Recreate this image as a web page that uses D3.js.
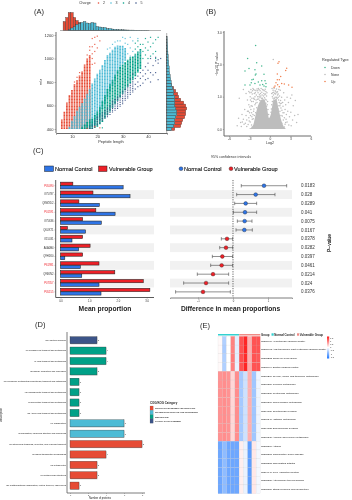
<!DOCTYPE html>
<html>
<head>
<meta charset="utf-8">
<script src="https://cdn.jsdelivr.net/npm/d3@7"></script>
<style>
  body { margin: 0; background: #fff; }
  svg { display: block; filter: blur(0.2px); }
  text { font-family: "Liberation Sans", Arial, sans-serif; }
</style>
</head>
<body>
<svg id="chart" width="352" height="500"></svg>
<script>
// ---- panel A: peptide length / mz, columns are [length, mzLow, mzHigh]
const charges = ['2', '3', '4', '5'];
const charge2Columns = [[6,400,480],[7,400,550],[8,400,625],[9,400,690],[10,400,735],[11,400,780],[12,400,815],[13,400,855],[14,400,890],[15,400,950],[16,400,1000],[17,400,1030]];
const charge3Columns = [[9,400,420],[10,400,470],[11,400,510],[12,400,555],[13,400,590],[14,400,620],[15,400,660],[16,400,700],[17,400,740],[18,420,790],[19,440,830],[20,480,870],[21,520,905],[22,570,945],[23,620,990],[24,670,1030],[25,720,1050],[26,770,1075],[27,820,1100],[28,870,1110],[29,910,1110],[30,950,1110],[31,980,1090]];
const charge4Columns = [[14,400,420],[15,400,440],[16,400,460],[17,400,480],[18,400,490],[19,410,520],[20,420,550],[21,440,590],[22,460,640],[23,490,690],[24,520,740],[25,550,780],[26,580,820],[27,610,860],[28,640,900],[29,670,930],[30,700,950],[31,730,970],[32,760,990],[33,790,1010],[34,820,1020],[35,850,1040],[36,880,1060],[37,910,1080]];
const charge5Columns = [[17,400,430],[18,400,450],[19,410,480],[20,430,510],[21,450,530],[22,470,545],[23,490,560],[24,500,590],[25,520,610],[26,540,640],[27,555,655],[28,570,680],[29,590,700],[30,610,730],[31,640,750],[32,660,775],[33,690,790],[34,710,820]];
const charge2Points = [[18,1170],[19,1180],[20,1190],[18,1100],[19,1120],[20,1090],[21,1150],[17,1070],[18,1040],[18,1000],[19,1060],[19,960],[18,950],[17,1100],[16,1030],[13,880],[11,800],[19,420],[21,410],[16,405],[12,840]];
const charge3Points = [[31,1130],[32,1120],[33,1090],[34,1060],[34,1150],[33,1180],[31,1170],[29,1150],[30,1180],[36,1170],[32,1040],[33,1020],[35,1020],[28,1150],[27,1140],[26,1120],[37,1050],[24,1080],[25,1090]];
const charge4Points = [[38,1000],[38,1060],[38,1120],[39,1030],[39,1090],[39,1170],[40,1000],[40,1140],[41,1020],[41,1100],[41,1180],[42,1040],[42,1130],[43,1000],[43,1060],[43,1160],[44,1180],[36,1100],[36,1150],[37,1120],[35,1080],[35,1130],[40,1070],[22,410]];
const charge5Points = [[35,740],[35,780],[35,830],[36,760],[36,800],[36,850],[37,770],[37,830],[37,880],[38,790],[38,850],[38,900],[39,820],[39,870],[39,930],[40,830],[40,900],[40,960],[41,800],[41,880],[41,1000],[42,860],[42,940],[43,880],[43,980],[44,820],[44,960],[44,990],[45,1000],[43,1010],[34,870],[33,830]];

const lengthBins = [7,8,9,10,11,12,13,14,15,16,17,18,19,20,21,22,23,24,25,26,27,28,29,30,31,32,33,34,35,36,37,38,39,40];
const lengthCharge2 = [9,13,18,18,13,10,8,7,6,4,3,2,1.5,1,1,0.7,0.5,0.4,0.3,0.3,0.2,0.2,0.1,0.1,0.1,0.1,0,0,0,0,0,0,0,0];
const lengthCharge3 = [0,0,1,2.5,4,6,7,8,9,7.5,7,8,7.5,4,3.5,3,3,2,2,1.5,1.2,1,0.8,0.7,0.6,0.5,0.4,0.4,0.3,0.3,0.2,0.2,0.2,0.1];
const mzBins = [400,425,450,475,500,525,550,575,600,625,650,675,700,725,750,775,800,825,850,875,900,925,950,975,1000,1025,1050,1075,1100,1125,1150,1175];
const mzCharge2 = [8,14,15,16,18,19,19,20,19,17,14,12,11,9,7,5,4,3,2.5,2,1.5,1.2,1,0.8,0.6,0.5,0.4,0.3,0.3,0.2,0.2,0.1];
const mzCharge3 = [5,7,8,8,9,10,10,9,8,8,8,8,7,7,6,5,4.5,4,3.5,3,2.5,2.5,2,2,1.5,1.5,1.2,1,1,0.8,0.6,0.5];

// ---- panel B: volcano, [log2, -log10 p]
const volcanoDown = [[-2.1,2.58],[-3.27,2.18],[-1.95,2.05],[-1.22,1.95],[-3.07,1.87],[-3.66,1.79],[-2.2,1.83],[-2.05,1.7],[-2.15,1.67],[-0.88,1.69],[-2.64,1.52],[-2.44,1.54],[-2.74,1.43],[-2.2,1.41],[-1.71,1.45],[-1.22,1.49],[-0.73,1.49],[-0.59,1.41],[-1.46,1.36],[-0.88,1.33],[-0.59,1.31],[-3.66,1.36],[-2.93,1.36],[-1.07,1.38]];
const volcanoUp = [[1.32,2.08],[1.17,2.03],[2.44,1.88],[2.3,1.81],[1.07,1.7],[1.56,1.62],[1.36,1.52],[1.07,1.52],[0.88,1.43],[1.71,1.41],[2.09,1.39],[2.73,1.36],[0.73,1.33],[1.36,1.31],[0.59,1.29],[1.12,1.37],[3.22,1.29]];
const volcanoNone = [[0.48,2.15],[-4.5,0.95],[-3.9,1.22],[-3.5,1.1],[-3.1,1.16],[-2.8,1.22],[-2.5,1.25],[-2.2,1.2],[-1.9,1.24],[-1.6,1.22],[-1.3,1.25],[-1,1.21],[-0.7,1.23],[-3.3,0.9],[-3.1,0.75],[-2.9,1],[-2.7,0.85],[-2.6,1.08],[-2.4,0.95],[-2.3,1.1],[-2.1,0.8],[-2,1.05],[-1.85,0.92],[-1.75,1.12],[-1.6,1],[-1.5,0.88],[-1.4,1.1],[-1.25,0.95],[-1.15,1.05],[-1,0.9],[-0.9,1.1],[-0.8,0.97],[-0.65,1.08],[-0.55,0.9],[-0.45,1.12],[-0.4,0.75],[-0.3,0.6],[-2.8,0.6],[-2.6,0.7],[-2.5,0.45],[-2.35,0.62],[-2.2,0.75],[-2.1,0.5],[-1.95,0.66],[-3.1,0.35],[-3,0.5],[-3.3,0.55],[-3.5,0.42],[-3.7,0.6],[-3.9,0.3],[-4.1,0.45],[-4.3,0.2],[-4.6,0.33],[-4.8,0.1],[-4.2,0.08],[-3.6,0.18],[-3.2,0.14],[-2.9,0.22],[-2.7,0.12],[-2.6,0.3],
  [-2.95,1.12],[-2.75,1.14],[-2.55,1.18],[-2.4,1.22],[-2.15,1.12],[-2.05,1.18],[-1.8,1.18],[-1.7,1.25],[-1.45,1.18],[-1.35,1.02],[-1.2,1.14],[-1.1,1.22],[-0.95,1.02],[-0.85,1.18],[-0.75,1.06],[-0.6,1.16],[-0.5,1.02],[-2.85,0.9],[-2.75,0.72],[-2.65,0.95],[-2.45,0.85],[-2.3,0.92],[-2.2,1],[-2.05,0.9],[-1.9,0.82],[-1.8,1],[-1.65,0.93],[-1.55,1.06],[-1.45,0.98],[-1.3,0.88],[-1.1,0.95],[-0.95,0.8],[-0.85,0.88],[-0.7,0.92],[-0.6,0.8],[-0.5,0.7],[-0.35,0.85],[-2.95,0.68],[-3.15,0.55],[-2.7,0.5],[-2.4,0.55],[-2.65,0.38],[-2.85,0.42],[-2.45,0.32],[-2.3,0.42],[-3.4,0.28],[-3.05,0.25],[-3.8,0.15],[-4.05,0.22],[-3.4,0.08],
  [0.3,1.25],[0.45,1.2],[0.6,1.26],[0.75,1.18],[0.95,1.24],[1.1,1.15],[1.3,1.22],[1.5,1.2],[0.35,1],[0.5,1.05],[0.65,0.95],[0.8,1.08],[0.95,0.98],[1.1,1.05],[1.25,0.9],[1.4,1.02],[1.55,0.88],[1.7,0.98],[1.85,0.82],[2,1.12],[2.15,0.9],[2.3,0.75],[2.5,0.98],[2.7,0.82],[3,0.95],[3.2,1.05],[3.4,0.72],[3.7,0.88],[4.1,0.45],[1.45,0.72],[1.6,0.65],[1.75,0.58],[1.9,0.7],[2.05,0.5],[2.2,0.6],[2.4,0.45],[2.6,0.55],[2.85,0.38],[3.05,0.52],[3.3,0.28],[3.6,0.42],[3.9,0.2],[2.5,0.22],[2.75,0.12],[3.1,0.1],[2.2,0.15],[2.35,0.3],[1.95,0.28],[1.75,0.18],[0.25,0.75],[0.35,0.85],[0.2,0.62],[0.15,0.52],[-0.2,0.45],[-2.4,0.1],[-2.6,0.06],[2.1,0.06],
  [0.25,1.1],[0.4,1.12],[0.55,1.14],[0.7,1.1],[0.85,1.15],[1,1.12],[1.2,1.08],[0.45,0.95],[0.55,0.9],[0.75,0.98],[0.9,0.92],[1.05,0.95],[1.2,0.98],[1.35,0.82],[1.5,0.78],[1.65,0.8],[1.3,0.72],[1.2,0.62],[1.45,0.55],[1.6,0.42],[1.8,0.4],[1.9,0.5],[2.1,0.35],[2.3,0.2]];
const volcanoDenseLog2 = [-3.1,-2.5,-2.2,-1.9,-1.46,-1.07,-0.7,-0.4,-0.15,0.15,0.5,0.9,1.27,1.6,2.0,2.4];
const volcanoDenseTop = [0,0.1,0.35,0.62,0.85,0.92,0.85,0.6,0.34,0.48,0.88,0.92,0.6,0.3,0.08,0];

// ---- panel C
const proteins = ['P05090','O75787','Q8WXD2','P01591','O75636','Q6UX71','O15031','A0A0B4','Q9H1K0','P61981','Q96KN2','P07357','P05155'];
const redProteins = ['P05090','P01591','P61981','P07357','P05155'];
const normalMean = [2.18,2.42,1.35,1.9,1.42,0.87,0.4,0.63,0.15,0.69,0.74,1.34,1.41];
const vulnerableMean = [0.43,1.13,0.64,1.23,0.77,0.24,0.77,1.03,0.77,1.34,1.89,2.88,3.11];
const meanDiff = [0.886,0.648,0.362,0.343,0.333,0.324,-0.171,-0.2,-0.305,-0.324,-0.571,-0.771,-0.857];
const diffLow = [0.237,0.105,0.048,0.01,0.124,0.086,-0.333,-0.38,-0.59,-0.638,-1.02,-1.41,-1.64];
const diffHigh = [1.534,1.2,0.676,0.676,0.543,0.552,-0.01,-0.01,-0.01,-0.01,-0.124,-0.124,-0.076];
const pValues = ['0.0183','0.028','0.0289','0.041','0.0075','0.0167','0.0378','0.0282','0.0397','0.0461','0.0214','0.024','0.0376'];

// ---- panel D
const cogTerms = ['[S] Function unknown','[P] Inorganic ion transport and metabolism','[I] Lipid transport and metabolism','[C] Energy production and conversion','[Q] Secondary metabolites biosynthesis, transport and catabolism','[G] Carbohydrate transport and metabolism','[F] Nucleotide transport and metabolism','[E] Amino acid transport and metabolism','[K] Transcription','[J] Translation, ribosomal structure and biogenesis','[U] Intracellular trafficking, secretion, and vesicular transport','[T] Signal transduction mechanisms','[Z] Cytoskeleton','[W] Extracellular structures','[O] Posttranslational modification, protein turnover, chaperones'];
const cogCounts = [3,4,4,3,1,1,1,1,6,6,8,4,3,3,1];
const cogGroups = [3,2,2,2,2,2,2,2,1,1,0,0,0,0,0];
const cogCategories = ['CELLULAR PROCESSES AND SIGNALING','INFORMATION STORAGE AND PROCESSING','METABOLISM','POORLY CHARACTERIZED'];

// ---- panel E
const keggTerms = ['hsa05410 Hypertrophic cardiomyopathy','hsa05412 Arrhythmogenic right ventricular cardiomyopathy','hsa05222 Small cell lung cancer','hsa05414 Dilated cardiomyopathy','hsa00260 Glycine, serine and threonine metabolism','hsa00350 Tyrosine metabolism','hsa00380 Tryptophan metabolism','hsa00360 Phenylalanine metabolism','hsa04726 Serotonergic synapse','hsa00340 Histidine metabolism','hsa04728 Dopaminergic synapse','hsa00330 Arginine and proline metabolism','hsa05310 Asthma','hsa05321 Inflammatory bowel disease','hsa05323 Rheumatoid arthritis','hsa04940 Type I diabetes mellitus','hsa05320 Autoimmune thyroid disease','hsa05150 Staphylococcus aureus infection'];
const heatValues = [
  [0.05,-0.7,0,1.1,-0.25,1.5,1.9,0.7,1.5,1.5],
  [0.05,-0.75,0,1.1,-0.25,1.5,1.9,0.7,1.5,1.5],
  [0.05,-0.7,0,1.15,-0.25,1.55,1.85,0.7,1.5,1.45],
  [0.05,-0.7,0,1.1,-0.2,1.5,1.9,0.75,1.5,1.5],
  [0.95,1,0.95,0.35,1,-0.8,-0.45,0.7,-0.85,-0.15],
  [0.95,1,0.95,0.35,1,-0.8,-0.45,0.7,-0.85,-0.15],
  [0.95,1,0.95,0.35,1,-0.8,-0.45,0.7,-0.85,-0.15],
  [0.95,1,0.95,0.35,1,-0.8,-0.45,0.7,-0.85,-0.15],
  [0.95,1,0.95,0.35,1,-0.8,-0.45,0.7,-0.85,-0.15],
  [0.95,1,0.95,0.35,1,-0.8,-0.45,0.7,-0.85,-0.15],
  [0.95,1,0.95,0.35,1,-0.8,-0.45,0.7,-0.85,-0.15],
  [0.95,1,0.95,0.35,1,-0.8,-0.45,0.7,-0.85,-0.15],
  [-1.3,-1,-1.3,-1.3,-1.3,0.15,-0.2,-1.45,0.2,-0.1],
  [-1.3,-1,-1.3,-1.3,-1.3,0.15,-0.2,-1.45,0.2,-0.1],
  [-1.3,-1,-1.3,-1.3,-1.3,0.15,-0.2,-1.45,0.2,-0.1],
  [-1.3,-1,-1.3,-1.3,-1.3,0.15,-0.2,-1.45,0.2,-0.1],
  [-1.3,-1,-1.3,-1.3,-1.3,0.15,-0.2,-1.45,0.2,-0.1],
  [-1.3,-1,-1.3,-1.3,-1.3,0.15,-0.2,-1.45,0.2,-0.1]
];
const heatLegendTicks = [1.5,1,0.5,0,-0.5,-1,-1.5];

const npg = ['#E64B35', '#4DBBD5', '#00A087', '#3C5488'];
const axisGrey = '#5a5a5a';
const svg = d3.select('#chart');

function label(x, y, txt, size, opts = {}) {
  return svg.append('text').attr('x', x).attr('y', y).text(txt)
    .attr('font-size', size)
    .attr('fill', opts.fill || '#222')
    .attr('font-weight', opts.weight || 'normal')
    .attr('stroke', opts.stroke || null)
    .attr('stroke-width', opts.stroke ? 0.12 : null)
    .attr('text-anchor', opts.anchor || 'start')
    .attr('transform', opts.rotate ? `rotate(${opts.rotate} ${x} ${y})` : null);
}

function styleAxis(g, fontSize, lineWidth, textFill) {
  g.selectAll('.domain').attr('stroke', axisGrey).attr('stroke-width', lineWidth);
  g.selectAll('.tick line').attr('stroke', axisGrey).attr('stroke-width', 0.4);
  g.selectAll('.tick text').attr('font-size', fontSize).attr('fill', textFill || '#333');
}

[['(A)', 34, 14], ['(B)', 206, 14], ['(C)', 33, 153], ['(D)', 35, 327], ['(E)', 200, 328]].forEach(d => {
  label(d[1], d[2], d[0], 7.5, {fill: '#222'});
});

drawPanelA();
drawPanelB();
drawPanelC();
drawPanelD();
drawPanelE();

function drawPanelA() {
  const x = d3.scaleLinear().domain([3.7, 47.5]).range([56, 167]);
  const y = d3.scaleLinear().domain([400, 1200]).range([129, 35]);

  label(79, 4, 'Charge', 3.6, {fill: '#333'});
  charges.forEach((c, i) => {
    svg.append('circle').attr('cx', 98.5 + i * 12.5).attr('cy', 3).attr('r', 0.8).attr('fill', npg[i]);
    label(103 + i * 12.5, 4, c, 3.6, {fill: '#333'});
  });

  [charge2Columns, charge3Columns, charge4Columns, charge5Columns].forEach((cols, i) => {
    svg.append('g').selectAll('line').data(cols).enter().append('line')
      .attr('x1', d => x(d[0])).attr('x2', d => x(d[0]))
      .attr('y1', d => y(d[1])).attr('y2', d => y(d[2]))
      .attr('stroke', npg[i]).attr('stroke-width', i === 3 ? 1.1 : 1.7)
      .attr('stroke-dasharray', i === 3 ? '1 0.8' : '1.2 0.25');
  });
  [charge2Points, charge3Points, charge4Points, charge5Points].forEach((pts, i) => {
    svg.append('g').selectAll('rect').data(pts).enter().append('rect')
      .attr('x', d => x(d[0]) - 0.6).attr('y', d => y(d[1]) - 0.6)
      .attr('width', 1.2).attr('height', 1.2).attr('fill', npg[i]).attr('opacity', 0.85);
  });

  svg.append('g').attr('transform', 'translate(0,133)')
    .call(d3.axisBottom(x).tickValues([10, 20, 30, 40]).tickSize(1.5).tickPadding(1))
    .call(g => styleAxis(g, 4, 0.9));
  svg.append('g').attr('transform', 'translate(56,0)')
    .call(d3.axisLeft(y).tickValues([400, 600, 800, 1000, 1200]).tickSize(1.5).tickPadding(1).tickFormat(d3.format('d')))
    .call(g => g.select('.domain').attr('d', 'M0,32V133'))
    .call(g => styleAxis(g, 4, 0.9));
  label(111, 143, 'Peptide length', 4, {anchor: 'middle', fill: '#333'});
  label(42, 82, 'm/z', 4, {anchor: 'middle', rotate: -90, fill: '#333'});

  // marginal histograms
  const hTop = d3.scaleLinear().domain([0, 18]).range([30.5, 12.5]);
  [[lengthCharge2, 0], [lengthCharge3, 1]].forEach(s => {
    svg.append('g').selectAll('rect').data(s[0]).enter().append('rect')
      .attr('x', (d, i) => x(lengthBins[i]) - 1.27)
      .attr('y', d => hTop(d))
      .attr('width', 2.54)
      .attr('height', d => 30.5 - hTop(d))
      .attr('fill', npg[s[1]]).attr('stroke', '#333').attr('stroke-width', 0.35);
  });
  svg.append('line').attr('x1', 60).attr('x2', 161).attr('y1', 30.5).attr('y2', 30.5).attr('stroke', '#666').attr('stroke-width', 0.5);

  const hRight = d3.scaleLinear().domain([0, 20]).range([166.7, 186.7]);
  [[mzCharge2, 0], [mzCharge3, 1]].forEach(s => {
    svg.append('g').selectAll('rect').data(s[0]).enter().append('rect')
      .attr('x', 166.7)
      .attr('y', (d, i) => y(mzBins[i]) - 2.94 + 1.5)
      .attr('width', d => hRight(d) - 166.7)
      .attr('height', 2.94)
      .attr('fill', npg[s[1]]).attr('stroke', '#333').attr('stroke-width', 0.35);
  });
  svg.append('line').attr('x1', 166.7).attr('x2', 166.7).attr('y1', 33).attr('y2', 133).attr('stroke', '#666').attr('stroke-width', 0.5);
}

function drawPanelB() {
  const x = d3.scaleLinear().domain([-6, 6]).range([229, 311]);
  const y = d3.scaleLinear().domain([0, 3]).range([129, 32]);
  const regColor = {down: '#45b78f', none: '#bdbdbd', up: '#f08050'};

  svg.append('path')
    .attr('d', d3.area().x((d, i) => x(volcanoDenseLog2[i])).y0(y(0)).y1(d => y(d)).curve(d3.curveMonotoneX)(volcanoDenseTop))
    .attr('fill', regColor.none);
  [[volcanoNone, regColor.none], [volcanoDown, regColor.down], [volcanoUp, regColor.up]].forEach(s => {
    svg.append('g').selectAll('circle').data(s[0]).enter().append('circle')
      .attr('cx', d => x(d[0])).attr('cy', d => y(d[1])).attr('r', 0.75).attr('fill', s[1]);
  });

  svg.append('g').attr('transform', 'translate(0,136)')
    .call(d3.axisBottom(x).tickValues([-6, -3, 0, 3, 6]).tickSize(1.2).tickPadding(1).tickFormat(d => d < 0 ? '-' + Math.abs(d) : d))
    .call(g => g.select('.domain').attr('d', 'M224,0H311'))
    .call(g => styleAxis(g, 3.2, 0.9));
  svg.append('g').attr('transform', 'translate(224,0)')
    .call(d3.axisLeft(y).tickValues([0, 1, 2, 3]).tickSize(1.2).tickPadding(1))
    .call(g => g.select('.domain').attr('d', 'M0,31V136'))
    .call(g => styleAxis(g, 3.2, 0.9));

  label(270, 144, 'Log2', 3.6, {anchor: 'middle', fill: '#333'});
  label(218, 64, '\u2212log10 P value', 3.6, {anchor: 'middle', rotate: -90, fill: '#333'});

  label(322, 61, 'Regulated Type', 3.8, {fill: '#333'});
  [['Down', regColor.down], ['None', regColor.none], ['Up', regColor.up]].forEach((d, i) => {
    svg.append('circle').attr('cx', 325).attr('cy', 67.5 + i * 7).attr('r', 0.8).attr('fill', d[1]);
    label(331, 69 + i * 7, d[0], 3.4, {fill: '#333'});
  });
}

function drawPanelC() {
  const blue = '#2e74e6', red = '#ed2027';
  const y = d3.scaleBand().domain(proteins).range([181.3, 296.3]);
  const x = d3.scaleLinear().domain([0, 3]).range([60.5, 146.7]);
  const xd = d3.scaleLinear().domain([-1.8, 1.686]).range([170, 292]);

  label(231, 157.5, '95% confidence intervals', 3.6, {anchor: 'middle', fill: '#333'});

  // legends
  svg.append('rect').attr('x', 44.5).attr('y', 166).attr('width', 9).attr('height', 5.5).attr('fill', blue).attr('stroke', '#222').attr('stroke-width', 0.5);
  label(55, 170.6, 'Normal Control', 5.6, {fill: '#111', stroke: '#111'});
  svg.append('rect').attr('x', 98.5).attr('y', 166).attr('width', 8.5).attr('height', 5.5).attr('fill', red).attr('stroke', '#222').attr('stroke-width', 0.5);
  label(109, 170.6, 'Vulnerable Group', 5.6, {fill: '#111', stroke: '#111'});
  svg.append('circle').attr('cx', 181).attr('cy', 168.7).attr('r', 1.9).attr('fill', blue).attr('stroke', '#222').attr('stroke-width', 0.4);
  label(184, 170.6, 'Normal Control', 5.6, {fill: '#111', stroke: '#111'});
  svg.append('circle').attr('cx', 231).attr('cy', 168.7).attr('r', 1.9).attr('fill', red).attr('stroke', '#222').attr('stroke-width', 0.4);
  label(234, 170.6, 'Vulnerable Group', 5.6, {fill: '#111', stroke: '#111'});

  // alternating bands
  const evenRows = proteins.filter((p, i) => i % 2 === 1);
  svg.append('g').selectAll('rect').data(evenRows).enter().append('rect')
    .attr('x', 60).attr('y', d => y(d)).attr('width', 94).attr('height', y.bandwidth()).attr('fill', '#f1f1f1');
  svg.append('g').selectAll('rect').data(evenRows).enter().append('rect')
    .attr('x', 170).attr('y', d => y(d)).attr('width', 122).attr('height', y.bandwidth()).attr('fill', '#f1f1f1');

  // grouped bars
  const barH = 3.3;
  [[vulnerableMean, red, 0.85], [normalMean, blue, 4.35]].forEach(s => {
    svg.append('g').selectAll('rect').data(s[0]).enter().append('rect')
      .attr('x', x(0)).attr('y', (d, i) => y(proteins[i]) + s[2]).attr('width', d => x(d) - x(0)).attr('height', barH)
      .attr('fill', s[1]).attr('stroke', '#222').attr('stroke-width', 0.55);
  });

  svg.append('g').attr('transform', 'translate(55.7,0)')
    .call(d3.axisLeft(y).tickSize(1.2).tickPadding(1))
    .call(g => g.select('.domain').attr('d', 'M0,180V297.5'))
    .call(g => styleAxis(g, 2.7, 1))
    .call(g => g.selectAll('.tick text').attr('fill', d => redProteins.includes(d) ? '#ee1c25' : '#333'));
  svg.append('g').attr('transform', 'translate(0,297.5)')
    .call(d3.axisBottom(x).tickValues([0, 1, 2, 3]).tickSize(1.2).tickPadding(1))
    .call(g => g.select('.domain').attr('d', 'M55.7,0H154'))
    .call(g => styleAxis(g, 2.7, 1));
  label(105, 311, 'Mean proportion', 6.7, {anchor: 'middle', weight: 'bold', fill: '#222'});

  // difference panel
  const rowY = i => y(proteins[i]) + y.bandwidth() / 2;
  svg.append('line').attr('x1', xd(0)).attr('x2', xd(0)).attr('y1', 180).attr('y2', 297.5)
    .attr('stroke', '#222').attr('stroke-width', 0.7).attr('stroke-dasharray', '1.2 1.2');
  const whisker = svg.append('g').selectAll('g').data(meanDiff).enter().append('g')
    .attr('stroke', '#444').attr('stroke-width', 0.6);
  whisker.append('line').attr('x1', (d, i) => xd(diffLow[i])).attr('x2', (d, i) => xd(diffHigh[i])).attr('y1', (d, i) => rowY(i)).attr('y2', (d, i) => rowY(i));
  whisker.append('line').attr('x1', (d, i) => xd(diffLow[i])).attr('x2', (d, i) => xd(diffLow[i])).attr('y1', (d, i) => rowY(i) - 1.7).attr('y2', (d, i) => rowY(i) + 1.7);
  whisker.append('line').attr('x1', (d, i) => xd(diffHigh[i])).attr('x2', (d, i) => xd(diffHigh[i])).attr('y1', (d, i) => rowY(i) - 1.7).attr('y2', (d, i) => rowY(i) + 1.7);
  svg.append('g').selectAll('circle').data(meanDiff).enter().append('circle')
    .attr('cx', d => xd(d)).attr('cy', (d, i) => rowY(i)).attr('r', 1.9)
    .attr('fill', d => d > 0 ? blue : red).attr('stroke', '#222').attr('stroke-width', 0.35);

  svg.append('g').attr('transform', 'translate(0,297.5)')
    .call(d3.axisBottom(xd).tickValues([-1, 0, 1]).tickSize(1.2).tickPadding(1).tickFormat(d => d < 0 ? '-' + Math.abs(d) : d))
    .call(g => styleAxis(g, 2.7, 0.8));
  label(230.5, 311, 'Difference in mean proportions', 6.7, {anchor: 'middle', weight: 'bold', fill: '#222'});

  svg.append('g').selectAll('text').data(pValues).enter().append('text')
    .attr('x', 301).attr('y', (d, i) => rowY(i) + 1.6).text(d => d)
    .attr('font-size', 4.5).attr('fill', '#333');
  label(331, 243, 'P\u2212value', 5, {anchor: 'middle', rotate: -90, fill: '#111', stroke: '#111'});
}

function drawPanelD() {
  const x = d3.scaleLinear().domain([0, 8]).range([70, 142]);
  const y = d3.scaleBand().domain(cogTerms).range([333.4, 492.4]).padding(0.31);

  svg.append('g').selectAll('rect').data(cogCounts).enter().append('rect')
    .attr('x', x(0) + 0.4).attr('y', (d, i) => y(cogTerms[i]) + 0.5)
    .attr('width', d => x(d) - x(0)).attr('height', y.bandwidth())
    .attr('fill', '#bbb');
  svg.append('g').selectAll('rect').data(cogCounts).enter().append('rect')
    .attr('x', x(0)).attr('y', (d, i) => y(cogTerms[i]))
    .attr('width', d => x(d) - x(0)).attr('height', y.bandwidth())
    .attr('fill', (d, i) => npg[cogGroups[i]]).attr('stroke', '#333').attr('stroke-width', 0.3);
  svg.append('g').selectAll('text').data(cogCounts).enter().append('text')
    .attr('x', d => x(d) + 0.7).attr('y', (d, i) => y(cogTerms[i]) + y.bandwidth() / 2 + 0.9)
    .text(d => d).attr('font-size', 2.5).attr('fill', '#333');

  svg.append('g').attr('transform', 'translate(67,0)')
    .call(d3.axisLeft(y).tickSize(0).tickPadding(1))
    .call(g => g.select('.domain').attr('d', 'M0,332V493'))
    .call(g => styleAxis(g, 2.15, 0.8, '#111'));
  svg.append('g').attr('transform', 'translate(0,493)')
    .call(d3.axisBottom(x).tickValues([0, 2, 4, 6, 8]).tickSize(0.8).tickPadding(0.5))
    .call(g => g.select('.domain').attr('d', 'M67,0H145'))
    .call(g => styleAxis(g, 2.2, 0.8));
  label(100, 498.5, 'Number of proteins', 2.6, {anchor: 'middle', fill: '#222'});
  label(2, 415, 'Description', 2.8, {anchor: 'middle', rotate: -90, fill: '#222'});

  label(150, 404, 'COG/KOG Category', 2.9, {weight: 'bold', fill: '#222'});
  cogCategories.forEach((c, i) => {
    svg.append('rect').attr('x', 150).attr('y', 406 + i * 4.3).attr('width', 3.2).attr('height', 4.3)
      .attr('fill', npg[i]).attr('stroke', '#555').attr('stroke-width', 0.15);
    label(155, 408.9 + i * 4.3, c, 2, {weight: 'bold', fill: '#222'});
  });
}

function drawPanelE() {
  const colIds = d3.range(heatValues[0].length);
  const x = d3.scaleBand().domain(colIds).range([218, 260.3]);
  const y = d3.scaleBand().domain(keggTerms).range([336.3, 493.7]);
  const color = d3.scaleLinear().domain([-2, 0, 2]).range(['#1f78ff', '#ffffff', '#ff1a1a']);

  // group strip
  svg.append('rect').attr('x', x(0)).attr('y', 334).attr('width', x.bandwidth() * 5).attr('height', 1.5).attr('fill', '#34d1d1');
  svg.append('rect').attr('x', x(5)).attr('y', 334).attr('width', x.bandwidth() * 5).attr('height', 1.5).attr('fill', '#f08a85');

  const row = svg.append('g').selectAll('g').data(heatValues).enter().append('g')
    .attr('transform', (d, i) => `translate(0,${y(keggTerms[i])})`);
  row.selectAll('rect').data(d => d).enter().append('rect')
    .attr('x', (d, i) => x(i)).attr('width', x.bandwidth()).attr('height', y.bandwidth())
    .attr('fill', d => color(d)).attr('stroke', '#b9b9b9').attr('stroke-width', 0.12);

  svg.append('g').selectAll('text').data(keggTerms).enter().append('text')
    .attr('x', 261).attr('y', d => y(d) + y.bandwidth() / 2 + 0.9).text(d => d)
    .attr('font-size', 2.5).attr('fill', '#111');

  label(261, 335.6, 'Group', 2.8, {weight: 'bold', fill: '#222'});
  svg.append('rect').attr('x', 271.5).attr('y', 333.3).attr('width', 2.2).attr('height', 2.4).attr('fill', '#34d1d1');
  label(274.2, 335.6, 'Normal Control', 2.8, {weight: 'bold', fill: '#222'});
  svg.append('rect').attr('x', 297).attr('y', 333.3).attr('width', 2.2).attr('height', 2.4).attr('fill', '#f08a85');
  label(299.7, 335.6, 'Vulnerable Group', 2.8, {weight: 'bold', fill: '#222'});

  // colour bar
  const legY = d3.scaleLinear().domain([1.5, -1.5]).range([338, 357]);
  const defs = svg.append('defs');
  const grad = defs.append('linearGradient').attr('id', 'heatLegend').attr('x1', 0).attr('x2', 0).attr('y1', 0).attr('y2', 1);
  heatLegendTicks.forEach((t, i) => {
    grad.append('stop').attr('offset', i / (heatLegendTicks.length - 1)).attr('stop-color', color(t * 1.33));
  });
  svg.append('rect').attr('x', 327).attr('y', 336.5).attr('width', 2.2).attr('height', 22).attr('fill', 'url(#heatLegend)');
  svg.append('g').selectAll('text').data(heatLegendTicks).enter().append('text')
    .attr('x', 330).attr('y', d => legY(d) + 0.8).text(d => d < 0 ? '-' + Math.abs(d) : d)
    .attr('font-size', 2.3).attr('fill', '#333');
}
</script>
</body>
</html>
